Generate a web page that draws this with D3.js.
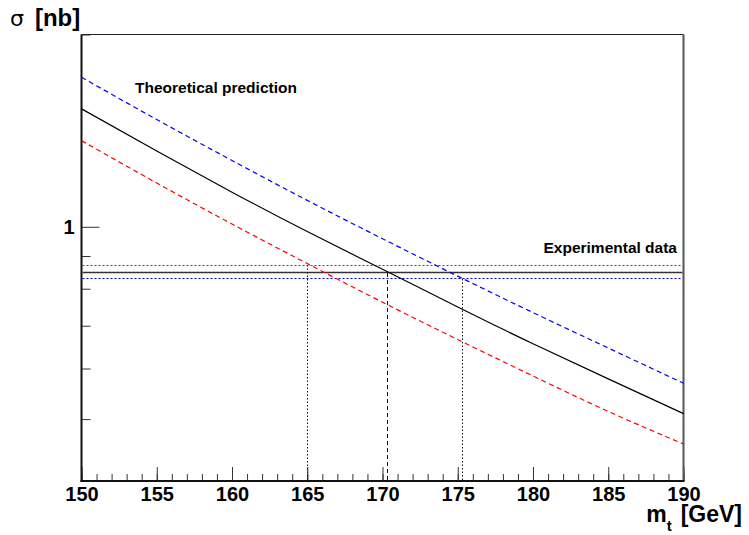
<!DOCTYPE html>
<html>
<head>
<meta charset="utf-8">
<script src="https://cdn.jsdelivr.net/npm/d3@7"></script>
<style>
  html, body { margin: 0; padding: 0; background: #fff; }
  svg { display: block; font-family: "Liberation Sans", Arial, Helvetica, sans-serif; }
</style>
</head>
<body>
<svg id="chart" width="749" height="535"></svg>
<script>
// Top-quark pair cross section vs top mass (log y axis)
const massPoints   = [150, 155, 160, 165, 170, 175, 180, 185, 190];
const sigmaCentral = [1.530, 1.314, 1.133, 0.983, 0.858, 0.749, 0.656, 0.578, 0.510];
const sigmaUpper   = [1.714, 1.472, 1.270, 1.100, 0.958, 0.837, 0.734, 0.646, 0.569];
const sigmaLower   = [1.364, 1.171, 1.010, 0.876, 0.762, 0.666, 0.584, 0.514, 0.457];

// Measured cross section with its band
const expCentral = 0.850;
const expUpper   = 0.871;
const expLower   = 0.831;

// Extracted masses
const mtCentral = 170.3;
const mtLow     = 165.0;
const mtHigh    = 175.3;

const xMajorTicks = [150, 155, 160, 165, 170, 175, 180, 185, 190];
const xMinorTicks = d3.range(150, 191, 1);
const yMajorTicks = [1];
const yMinorTicks = [0.4, 0.5, 0.6, 0.7, 0.8, 0.9, 2];

const svg = d3.select("#chart");
const frameLeft = 81.5, frameRight = 683.5, frameTop = 34.5, frameBottom = 481;

const x = d3.scaleLinear().domain([150, 190]).range([frameLeft, frameRight]);
const y = d3.scaleLog().domain([0.4, 2.0]).range([frameBottom, frameTop]);
const crisp = v => Math.round(v) + 0.5;

// Axes ticks
const xMinor = d3.axisBottom(x).tickValues(xMinorTicks).tickSize(-7).tickFormat("");
const xMajor = d3.axisBottom(x).tickValues(xMajorTicks).tickSize(-14).tickPadding(6).tickFormat(d3.format("d"));
const yMinor = d3.axisLeft(y).tickValues(yMinorTicks).tickSize(-9).tickFormat("");
const yMajor = d3.axisLeft(y).tickValues(yMajorTicks).tickSize(-18).tickPadding(7).tickFormat(d3.format("d"));

function styleAxis(g) {
  g.select(".domain").remove();
  g.selectAll(".tick line").attr("stroke", "#333").attr("stroke-width", 1);
  g.selectAll(".tick text").attr("fill", "#000").attr("font-size", 20).attr("font-weight", "bold")
    .attr("font-family", "'Liberation Sans', Arial, sans-serif");
}
svg.append("g").attr("transform", `translate(0,${frameBottom})`).call(xMinor).call(styleAxis);
svg.append("g").attr("transform", `translate(0,${frameBottom})`).call(xMajor).call(styleAxis);
svg.append("g").attr("transform", `translate(${frameLeft},0)`).call(yMinor).call(styleAxis);
svg.append("g").attr("transform", `translate(${frameLeft},0)`).call(yMajor).call(styleAxis);

// Plot frame
svg.append("line").attr("x1", frameLeft).attr("x2", frameRight).attr("y1", frameTop).attr("y2", frameTop)
  .attr("stroke", "#222").attr("stroke-width", 1);
svg.append("line").attr("x1", frameRight).attr("x2", frameRight).attr("y1", frameTop).attr("y2", frameBottom)
  .attr("stroke", "#555").attr("stroke-width", 2);
svg.append("line").attr("x1", frameLeft).attr("x2", frameLeft).attr("y1", frameTop).attr("y2", frameBottom + 1)
  .attr("stroke", "#111").attr("stroke-width", 2);
svg.append("line").attr("x1", frameLeft - 1).attr("x2", frameRight + 1).attr("y1", frameBottom).attr("y2", frameBottom)
  .attr("stroke", "#111").attr("stroke-width", 2);

// Experimental band
const hLines = [
  { v: expUpper, color: "#ff0000", dash: "2,2", w: 1 },
  { v: expCentral, color: "#333", dash: null, w: 1.6 },
  { v: expLower, color: "#0000ff", dash: "2,2", w: 1 }
];
hLines.forEach(h => {
  svg.append("line")
    .attr("x1", x(150) + 1).attr("x2", x(190) - 1)
    .attr("y1", crisp(y(h.v))).attr("y2", crisp(y(h.v)))
    .attr("stroke", h.color).attr("stroke-width", h.w)
    .attr("stroke-dasharray", h.dash);
});

// Mass projections
const vLines = [
  { m: mtLow, v: expUpper, dash: "1.5,2" },
  { m: mtCentral, v: expCentral, dash: "4,3" },
  { m: mtHigh, v: expLower, dash: "1.5,2" }
];
vLines.forEach(l => {
  svg.append("line")
    .attr("x1", crisp(x(l.m))).attr("x2", crisp(x(l.m)))
    .attr("y1", frameBottom - 1).attr("y2", y(l.v))
    .attr("stroke", "#111").attr("stroke-width", 1)
    .attr("stroke-dasharray", l.dash);
});

// Theory curves
const line = d3.line().x(d => x(d[0])).y(d => y(d[1])).curve(d3.curveNatural);
const curves = [
  { vals: sigmaUpper, color: "#0000ff", dash: "5,3.5", w: 1.2 },
  { vals: sigmaLower, color: "#ff0000", dash: "5,3.5", w: 1.2 },
  { vals: sigmaCentral, color: "#000", dash: null, w: 1.2 }
];
curves.forEach(c => {
  svg.append("path")
    .datum(massPoints.map((m, i) => [m, c.vals[i]]))
    .attr("d", line)
    .attr("fill", "none")
    .attr("stroke", c.color).attr("stroke-width", c.w)
    .attr("stroke-dasharray", c.dash);
});

// Annotations
svg.append("text").attr("x", 135).attr("y", 93).attr("font-size", 15.5).attr("font-weight", "bold")
  .text("Theoretical prediction");
svg.append("text").attr("x", 677).attr("y", 253).attr("text-anchor", "end")
  .attr("font-size", 15.5).attr("font-weight", "bold").text("Experimental data");

// Axis titles
const yTitle = svg.append("text").attr("x", 10).attr("y", 26);
yTitle.append("tspan").attr("font-family", "'DejaVu Sans', sans-serif").attr("font-size", 22).text("σ");
yTitle.append("tspan").attr("dx", 11).attr("font-size", 24).attr("font-weight", "bold").text("[nb]");

const xTitle = svg.append("text").attr("x", 742).attr("y", 522).attr("text-anchor", "end")
  .attr("font-size", 23).attr("font-weight", "bold");
xTitle.append("tspan").text("m");
xTitle.append("tspan").attr("font-size", 15).attr("dy", 9).text("t");
xTitle.append("tspan").attr("dy", -9).attr("dx", 9).text("[GeV]");
</script>
</body>
</html>
